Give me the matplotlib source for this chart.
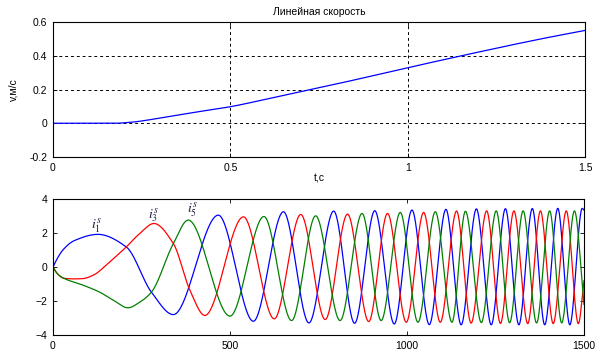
import matplotlib
matplotlib.use("Agg")
import matplotlib.pyplot as plt
import numpy as np

plt.rcParams["font.family"] = ["Liberation Sans", "DejaVu Sans"]
plt.rcParams["mathtext.fontset"] = "stix"

# ── Top panel: linear speed ───────────────────────────────────── #
vel_t = [0, 0.175, 0.22, 0.3, 0.4, 0.5, 0.6, 0.7, 0.8, 0.9, 1.0, 1.1, 1.2, 1.3, 1.4, 1.5]
vel_v = [0, 0, 0.006, 0.03, 0.065, 0.098, 0.142, 0.187, 0.233, 0.281, 0.329, 0.376,
         0.422, 0.467, 0.51, 0.55]

# ── Bottom panel: phase currents, knots (sample, value) ───────── #
blue_t = [0, 30, 60, 127, 207, 278, 340, 467, 566, 651, 723, 793, 852, 909, 964,
          1014, 1063, 1110, 1153, 1196, 1238, 1278, 1316, 1354, 1389, 1426, 1460, 1495, 1500]
blue_v = [0, 1.05, 1.55, 1.92, 1.18, -1.48, -2.80, 3.05, -3.19, 3.25, -3.29, 3.29, -3.31,
          3.31, -3.35, 3.35, -3.39, 3.39, -3.4, 3.42, -3.4, 3.43, -3.4, 3.44, -3.4, 3.45,
          -3.4, 3.45, 3.35]

red_t = [0, 15, 30, 60, 85, 113, 160, 207, 245, 285, 340, 387, 429, 538, 625, 700, 769, 832,
         892, 945, 998, 1047, 1094, 1140, 1181, 1225, 1264, 1302, 1341, 1377, 1413, 1450,
         1484, 1500]
red_v = [0, -0.45, -0.66, -0.70, -0.68, -0.49, 0.3, 1.18, 1.97, 2.56, 1.38, -1.38, -2.85,
         2.95, -3.05, 3.09, -3.09, 3.11, -3.21, 3.15, -3.25, 3.21, -3.25, 3.29, -3.3, 3.3,
         -3.32, 3.3, -3.33, 3.3, -3.33, 3.3, -3.33, -0.8]

green_t = [0, 15, 30, 85, 132, 170, 212, 245, 278, 340, 382, 500, 596, 674, 742, 811, 873,
           927, 981, 1031, 1080, 1127, 1165, 1210, 1252, 1290, 1328, 1366, 1403, 1437, 1473,
           1500]
green_v = [0, -0.45, -0.66, -1.07, -1.48, -1.95, -2.40, -2.07, -1.48, 1.38, 2.76, -2.89,
           2.97, -3.15, 3.01, -3.15, 3.15, -3.15, 3.21, -3.25, 3.25, -3.25, 3.28, -3.27,
           3.3, -3.28, 3.3, -3.29, 3.3, -3.29, 3.3, -2.2]

labels = [r"$i_1^s$", r"$i_3^s$", r"$i_5^s$"]
label_pos = [(124, 2.4), (285, 3.0), (393, 3.35)]

BLUE, RED, GREEN = "#0000ff", "#ff0000", "#008000"


def pchip(x, y, xs):
    """Monotone cubic through the knots (Fritsch-Carlson)."""
    x = np.asarray(x, float)
    y = np.asarray(y, float)
    h = np.diff(x)
    d = np.diff(y) / h
    m = np.zeros_like(y)
    for k in range(1, len(x) - 1):
        if d[k - 1] * d[k] > 0:
            w1 = 2 * h[k] + h[k - 1]
            w2 = h[k] + 2 * h[k - 1]
            m[k] = (w1 + w2) / (w1 / d[k - 1] + w2 / d[k])
    # three-point end slopes
    m0 = ((2 * h[0] + h[1]) * d[0] - h[0] * d[1]) / (h[0] + h[1])
    m[0] = m0 if np.sign(m0) == np.sign(d[0]) else 0.0
    m[-1] = d[-1]
    i = np.clip(np.searchsorted(x, xs, side="right") - 1, 0, len(h) - 1)
    s = (xs - x[i]) / h[i]
    h00 = 2 * s**3 - 3 * s**2 + 1
    h10 = s**3 - 2 * s**2 + s
    h01 = -2 * s**3 + 3 * s**2
    h11 = s**3 - s**2
    return h00 * y[i] + h10 * h[i] * m[i] + h01 * y[i + 1] + h11 * h[i] * m[i + 1]


def _matlab_style(ax):
    ax.tick_params(direction="in", top=True, right=True, labelsize=7.5,
                   length=3, width=0.6, pad=4)
    for sp in ax.spines.values():
        sp.set_linewidth(0.8)


fig = plt.figure(figsize=(6.06, 3.53), dpi=100, facecolor="white")

# ── Top: speed ─────────────────────────────────────────────────── #
ax1 = fig.add_axes([53 / 606, 1 - 157 / 353, 532 / 606, 135 / 353])
tt = np.linspace(0, 1.5, 600)
ax1.plot(tt, pchip(vel_t, vel_v, tt), color=BLUE, lw=0.9)
ax1.set_xlim(0, 1.5)
ax1.set_ylim(-0.2, 0.6)
ax1.set_xticks([0, 0.5, 1, 1.5])
ax1.set_xticklabels(["0", "0.5", "1", "1.5"])
ax1.set_yticks([-0.2, 0, 0.2, 0.4, 0.6])
ax1.set_yticklabels(["-0.2", "0", "0.2", "0.4", "0.6"])
ax1.grid(True, color="black", linestyle=(0, (3, 3)), linewidth=0.7)
_matlab_style(ax1)
ax1.set_title("Линейная скорость", fontsize=7.5, pad=5)
ax1.set_ylabel("v,м/с", fontsize=7.5, labelpad=8)
ax1.set_xlabel("t,c", fontsize=7.5, labelpad=1)

# ── Bottom: currents ───────────────────────────────────────────── #
ax2 = fig.add_axes([53 / 606, 1 - 335 / 353, 531 / 606, 136 / 353])
n = np.arange(0, 1501)
ax2.plot(n, pchip(blue_t, blue_v, n), color=BLUE, lw=0.9)
ax2.plot(n, pchip(red_t, red_v, n), color=RED, lw=0.9)
ax2.plot(n, pchip(green_t, green_v, n), color=GREEN, lw=0.9)
ax2.set_xlim(0, 1500)
ax2.set_ylim(-4, 4)
ax2.set_xticks([0, 500, 1000, 1500])
ax2.set_yticks([-4, -2, 0, 2, 4])
_matlab_style(ax2)
for txt, (x, y) in zip(labels, label_pos):
    ax2.text(x, y, txt, fontsize=10, ha="center", va="center", color="#202040")

fig.savefig("out.png", dpi=100, facecolor="white")
